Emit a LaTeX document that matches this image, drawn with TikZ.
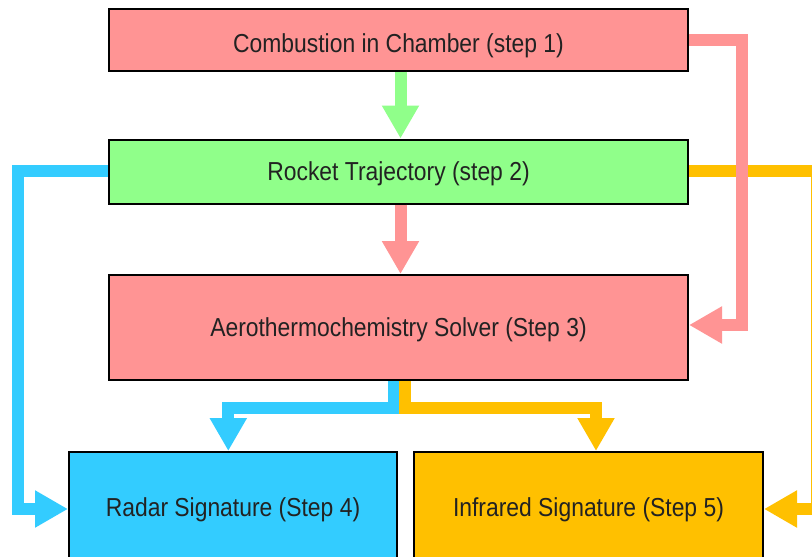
\documentclass[tikz,border=0pt]{standalone}
\usepackage{fontspec}
\setmainfont{Liberation Sans}[FakeStretch=0.88]
\usetikzlibrary{arrows.meta}
\definecolor{cpink}{RGB}{255,148,148}
\definecolor{cgreen}{RGB}{144,255,138}
\definecolor{cblue}{RGB}{51,204,255}
\definecolor{corange}{RGB}{255,192,0}
\definecolor{ctext}{RGB}{34,34,34}
\tikzset{
  stepbox/.style={draw=black, line width=2pt, rectangle, inner sep=0pt,
    text=ctext, font=\fontsize{26}{30}\selectfont, text height=18.5pt, text depth=0pt},
  flow/.style={line width=12pt, miter limit=10,
    -{Triangle[length=33pt,width=35pt]}},
}
\begin{document}
\begin{tikzpicture}[x=1pt,y=-1pt]
\useasboundingbox (0,0) rectangle (812,557);
\fill[white] (0,0) rectangle (812,557);
\begin{scope}
\clip (0,0) rectangle (812,557);
\node[stepbox, fill=cpink, minimum width=579pt, minimum height=61.5pt] (c1) at (398.5,39.75) {\raisebox{-3pt}{Combustion in Chamber (step 1)}};
\node[stepbox, fill=cgreen, minimum width=579pt, minimum height=64pt] (c2) at (398.5,171.5) {Rocket Trajectory (step 2)};
\node[stepbox, fill=cpink, minimum width=579pt, minimum height=105pt] (c3) at (398.5,327.5) {Aerothermochemistry Solver (Step 3)};
\node[stepbox, fill=cblue, minimum width=328pt, minimum height=110pt] (c4) at (233,507) {Radar Signature (Step 4)};
\node[stepbox, fill=corange, minimum width=349pt, minimum height=110pt] (c5) at (588.5,507) {Infrared Signature (Step 5)};

\coordinate (oR) at (816.6,0);
\coordinate (bL) at (17.5,0);
\coordinate (pR) at (742,0);

% orange: step 2 -> step 5 (around the right)
\draw[flow, draw=corange] ([yshift=1pt]c2.east) -- ([yshift=1pt]c2.east -| oR) |- ([yshift=-2pt]c5.east);
% blue: step 2 -> step 4 (around the left)
\draw[flow, draw=cblue] ([yshift=1pt]c2.west) -- ([yshift=1pt]c2.west -| bL) |- ([yshift=-2pt]c4.west);
% pink: step 1 -> step 3 (around the right)
\draw[flow, draw=cpink] (c1.east) -- (c1.east -| pR) |- ([yshift=2.5pt]c3.east);
% green: step 1 -> step 2
\draw[flow, draw=cgreen] ([xshift=2pt]c1.south) -- ([xshift=2pt]c2.north);
% pink: step 2 -> step 3
\draw[flow, draw=cpink] ([xshift=2pt]c2.south) -- ([xshift=2pt]c3.north);
% blue: step 3 -> step 4
\draw[flow, draw=cblue] ([xshift=-4.5pt]c3.south) -- ++(0,27) -| ([xshift=-4.7pt]c4.north);
% orange: step 3 -> step 5
\draw[flow, draw=corange] ([xshift=6.5pt]c3.south) -- ++(0,27) -| ([xshift=7.5pt]c5.north);
\end{scope}
\end{tikzpicture}
\end{document}
